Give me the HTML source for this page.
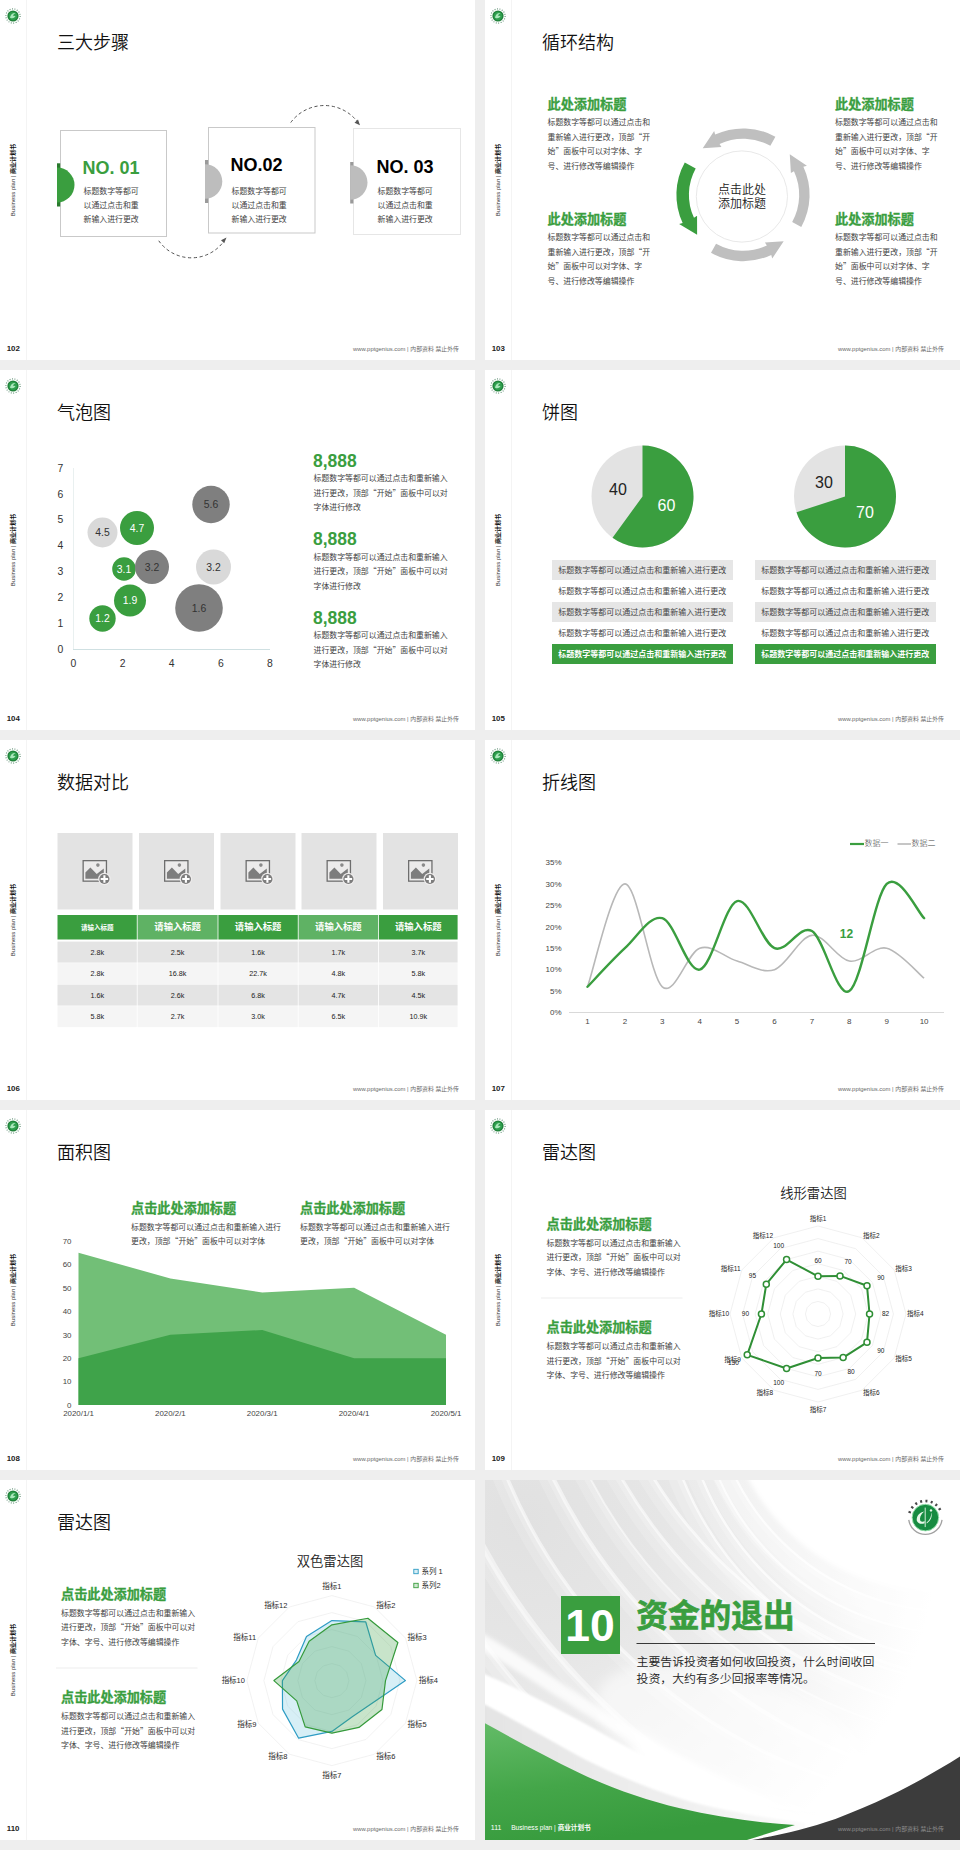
<!DOCTYPE html>
<html lang="zh-CN"><head><meta charset="utf-8"><title>Business plan</title><style>
*{margin:0;padding:0;box-sizing:border-box}
html,body{width:960px;height:1850px;background:#eeeeee;overflow:hidden}
body{position:relative;font-family:"Liberation Sans","Noto Sans CJK SC",sans-serif;color:#333}
.s{position:absolute;width:475px;height:360px;background:#fff;overflow:hidden}
.s svg.bg{position:absolute;left:0;top:0;width:475px;height:360px}
.a{position:absolute;white-space:nowrap}
.t{position:absolute;left:57px;top:29px;font-size:18px;line-height:28px;font-weight:350;color:#111;white-space:nowrap}
.vl{position:absolute;left:26px;top:0;width:1px;height:360px;background:#f4f4f4}
.vt{position:absolute;left:13px;top:180px;width:0;height:0}
.vt span{position:absolute;white-space:nowrap;font-size:6px;line-height:8px;color:#333;transform:translate(-50%,-50%) rotate(-90deg);transform-origin:50% 50%;left:0;top:0;display:block}
.vt b{color:#111}
.pn{position:absolute;left:6.7px;top:343.6px;font-size:7.9px;line-height:10px;font-weight:bold;color:#222}
.ft{position:absolute;right:16px;top:344px;font-size:5.9px;line-height:10px;color:#6a6a6a;white-space:nowrap;font-weight:400}
.g{color:#3a9e3f}
.q{font-family:"Noto Sans CJK SC",sans-serif;line-height:0}
.p{position:absolute;font-size:7.9px;line-height:14.4px;color:#424242;font-weight:400;white-space:nowrap;margin-top:1.1px}
.h{position:absolute;font-size:12px;line-height:16px;font-weight:bold;color:#3a9e3f;white-space:nowrap}
</style></head><body>
<div class="s" style="left:0px;top:0px">
<div class="vl"></div><svg class="a" style="left:4.7px;top:7.8px" width="16" height="16" viewBox="0 0 16 16"><circle cx="8" cy="8" r="7.1" fill="none" stroke="#55886a" stroke-width="1.15" stroke-dasharray="0.9 1.58"/><circle cx="8" cy="8" r="5.6" fill="#1f8039"/><circle cx="8" cy="8" r="4.3" fill="#2f9f4e"/><path d="M4.9 9.4 Q6.4 4.6 10.6 5 Q8.3 6 8 7.9 Q9.6 7.5 10.6 8.3 Q8 11.6 4.9 9.4Z" fill="#a9e6ba"/></svg>
<div class="vt"><span>Business plan | <b>商业计划书</b></span></div>
<div class="pn">102</div>
<div class="ft">www.pptgenius.com | 内部资料 禁止外传</div>
<div class="t">三大步骤</div>
<svg class="bg" viewBox="0 0 475 360">
<rect x="60.5" y="130.5" width="106" height="106" fill="#fff" stroke="#c9c9c9"/>
<rect x="208.5" y="127.5" width="106.5" height="105.5" fill="#fff" stroke="#c9c9c9"/>
<rect x="353.5" y="128.5" width="107" height="106" fill="#fff" stroke="#e6e6e6"/>
<rect x="57" y="163.3" width="3.2" height="43.2" fill="#2a7a2e"/>
<path d="M57 167.5 A17.5 17.5 0 0 1 57 202.5Z" fill="#3a9e3f"/>
<rect x="205" y="160" width="3.2" height="43" fill="#9a9a9a"/>
<path d="M205 164.2 A17.3 17.3 0 0 1 205 198.8Z" fill="#bdbdbd"/>
<rect x="350.2" y="162" width="3.2" height="41.5" fill="#9a9a9a"/>
<path d="M350.2 165.2 A17.3 17.3 0 0 1 350.2 199.8Z" fill="#bdbdbd"/>
<path d="M158.75 240.75 A39.9 39.9 0 0 0 224.3 240.6" fill="none" stroke="#4a4a4a" stroke-width="0.95" stroke-dasharray="3.2 2.6"/>
<path d="M226.5 237.5 L221 240.2 L224.2 243.2Z" fill="#555"/>
<path d="M290.75 122.5 A41.8 41.8 0 0 1 357.8 122.2" fill="none" stroke="#4a4a4a" stroke-width="0.95" stroke-dasharray="3.2 2.6"/>
<path d="M360 125.2 L354.5 122.8 L358 119.6Z" fill="#555"/>
</svg>
<div class="a" style="left:82.5px;top:157px;font-size:18px;line-height:22px;font-weight:bold;color:#3a9e3f">NO. 01</div>
<div class="a" style="left:230.5px;top:154px;font-size:18px;line-height:22px;font-weight:bold;color:#000">NO.02</div>
<div class="a" style="left:376.5px;top:156px;font-size:18px;line-height:22px;font-weight:bold;color:#000">NO. 03</div>
<div class="p" style="left:83.5px;top:183.5px;">标题数字等都可<br>以通过点击和重<br>新输入进行更改</div>
<div class="p" style="left:231.5px;top:183.5px;">标题数字等都可<br>以通过点击和重<br>新输入进行更改</div>
<div class="p" style="left:377.5px;top:183.5px;">标题数字等都可<br>以通过点击和重<br>新输入进行更改</div>
</div>
<div class="s" style="left:485px;top:0px">
<div class="vl"></div><svg class="a" style="left:4.7px;top:7.8px" width="16" height="16" viewBox="0 0 16 16"><circle cx="8" cy="8" r="7.1" fill="none" stroke="#55886a" stroke-width="1.15" stroke-dasharray="0.9 1.58"/><circle cx="8" cy="8" r="5.6" fill="#1f8039"/><circle cx="8" cy="8" r="4.3" fill="#2f9f4e"/><path d="M4.9 9.4 Q6.4 4.6 10.6 5 Q8.3 6 8 7.9 Q9.6 7.5 10.6 8.3 Q8 11.6 4.9 9.4Z" fill="#a9e6ba"/></svg>
<div class="vt"><span>Business plan | <b>商业计划书</b></span></div>
<div class="pn">103</div>
<div class="ft">www.pptgenius.com | 内部资料 禁止外传</div>
<div class="t">循环结构</div>
<svg class="bg" viewBox="0 0 475 360"><path d="M290.39 136.73 A66.4 66.4 0 0 0 230.14 134.62 L229.17 131.10 L217.72 148.23 L236.47 147.12 L234.53 144.05 A56 56 0 0 1 285.35 145.82 Z" fill="#bfbfbf"/><path d="M199.78 162.41 A66.8 66.8 0 0 0 197.66 223.03 L194.14 223.99 L212.12 234.85 L212.06 215.82 L208.99 217.75 A54.3 54.3 0 0 1 210.71 168.47 Z" fill="#3a9e3f"/><path d="M226.01 252.87 A66.4 66.4 0 0 0 286.26 254.98 L287.23 258.50 L298.68 241.37 L279.93 242.48 L281.87 245.55 A56 56 0 0 1 231.05 243.78 Z" fill="#bfbfbf"/><path d="M316.27 226.99 A66.4 66.4 0 0 0 318.38 166.74 L321.90 165.77 L304.77 154.32 L305.88 173.07 L308.95 171.13 A56 56 0 0 1 307.18 221.95 Z" fill="#bfbfbf"/><circle cx="256.9" cy="196.5" r="45.6" fill="#fff" stroke="#e2e2e2" stroke-width="0.8"/></svg>
<div class="a" style="left:216.89999999999998px;top:182.8px;width:80px;text-align:center;font-size:12px;line-height:14.2px;color:#222;font-weight:350">点击此处<br>添加标题</div>
<div class="h" style="left:62.5px;top:95.5px;font-size:13.15px;line-height:17px;-webkit-text-stroke:0.3px #3a9e3f">此处添加标题</div>
<div class="p" style="left:62.5px;top:115.3px;">标题数字等都可以通过点击和<br>重新输入进行更改，顶部<span class="q">“</span>开<br>始<span class="q">”</span>面板中可以对字体、字<br>号、进行修改等编辑操作</div>
<div class="h" style="left:62.5px;top:210.5px;font-size:13.15px;line-height:17px;-webkit-text-stroke:0.3px #3a9e3f">此处添加标题</div>
<div class="p" style="left:62.5px;top:230.3px;">标题数字等都可以通过点击和<br>重新输入进行更改，顶部<span class="q">“</span>开<br>始<span class="q">”</span>面板中可以对字体、字<br>号、进行修改等编辑操作</div>
<div class="h" style="left:350px;top:95.5px;font-size:13.15px;line-height:17px;-webkit-text-stroke:0.3px #3a9e3f">此处添加标题</div>
<div class="p" style="left:350px;top:115.3px;">标题数字等都可以通过点击和<br>重新输入进行更改，顶部<span class="q">“</span>开<br>始<span class="q">”</span>面板中可以对字体、字<br>号、进行修改等编辑操作</div>
<div class="h" style="left:350px;top:210.5px;font-size:13.15px;line-height:17px;-webkit-text-stroke:0.3px #3a9e3f">此处添加标题</div>
<div class="p" style="left:350px;top:230.3px;">标题数字等都可以通过点击和<br>重新输入进行更改，顶部<span class="q">“</span>开<br>始<span class="q">”</span>面板中可以对字体、字<br>号、进行修改等编辑操作</div>
</div>
<div class="s" style="left:0px;top:370px">
<div class="vl"></div><svg class="a" style="left:4.7px;top:7.8px" width="16" height="16" viewBox="0 0 16 16"><circle cx="8" cy="8" r="7.1" fill="none" stroke="#55886a" stroke-width="1.15" stroke-dasharray="0.9 1.58"/><circle cx="8" cy="8" r="5.6" fill="#1f8039"/><circle cx="8" cy="8" r="4.3" fill="#2f9f4e"/><path d="M4.9 9.4 Q6.4 4.6 10.6 5 Q8.3 6 8 7.9 Q9.6 7.5 10.6 8.3 Q8 11.6 4.9 9.4Z" fill="#a9e6ba"/></svg>
<div class="vt"><span>Business plan | <b>商业计划书</b></span></div>
<div class="pn">104</div>
<div class="ft">www.pptgenius.com | 内部资料 禁止外传</div>
<div class="t">气泡图</div>
<svg class="bg" viewBox="0 0 475 360" font-family="Liberation Sans, sans-serif"><path d="M73.5 98 V279.5" fill="none" stroke="#e9f0f0" stroke-width="1"/><path d="M73 279.5 H270" fill="none" stroke="#cfe0e2" stroke-width="1"/><text x="60.5" y="282.7" font-size="10.4" fill="#333" text-anchor="middle">0</text><text x="60.5" y="256.8" font-size="10.4" fill="#333" text-anchor="middle">1</text><text x="60.5" y="231.0" font-size="10.4" fill="#333" text-anchor="middle">2</text><text x="60.5" y="205.1" font-size="10.4" fill="#333" text-anchor="middle">3</text><text x="60.5" y="179.3" font-size="10.4" fill="#333" text-anchor="middle">4</text><text x="60.5" y="153.4" font-size="10.4" fill="#333" text-anchor="middle">5</text><text x="60.5" y="127.5" font-size="10.4" fill="#333" text-anchor="middle">6</text><text x="60.5" y="101.7" font-size="10.4" fill="#333" text-anchor="middle">7</text><text x="73.5" y="296.6" font-size="10.4" fill="#333" text-anchor="middle">0</text><text x="122.6" y="296.6" font-size="10.4" fill="#333" text-anchor="middle">2</text><text x="171.7" y="296.6" font-size="10.4" fill="#333" text-anchor="middle">4</text><text x="220.9" y="296.6" font-size="10.4" fill="#333" text-anchor="middle">6</text><text x="270.0" y="296.6" font-size="10.4" fill="#333" text-anchor="middle">8</text><circle cx="102.5" cy="162.5" r="15" fill="#d9d9d9"/><circle cx="137" cy="158" r="17" fill="#3a9e3f"/><circle cx="211" cy="134.5" r="18.7" fill="#7f7f7f"/><circle cx="124" cy="199" r="11.8" fill="#3a9e3f"/><circle cx="152" cy="197" r="17" fill="#7f7f7f"/><circle cx="213.5" cy="197" r="17.5" fill="#d9d9d9"/><circle cx="130" cy="230.5" r="16" fill="#3a9e3f"/><circle cx="102.5" cy="248.5" r="13.2" fill="#3a9e3f"/><circle cx="199" cy="238" r="23.8" fill="#7f7f7f"/><text x="102.5" y="166.2" font-size="10.4" fill="#333" text-anchor="middle">4.5</text><text x="137" y="161.7" font-size="10.4" fill="#fff" text-anchor="middle">4.7</text><text x="211" y="138.2" font-size="10.4" fill="#333" text-anchor="middle">5.6</text><text x="124" y="202.7" font-size="10.4" fill="#fff" text-anchor="middle">3.1</text><text x="152" y="200.7" font-size="10.4" fill="#333" text-anchor="middle">3.2</text><text x="213.5" y="200.7" font-size="10.4" fill="#333" text-anchor="middle">3.2</text><text x="130" y="234.2" font-size="10.4" fill="#fff" text-anchor="middle">1.9</text><text x="102.5" y="252.2" font-size="10.4" fill="#fff" text-anchor="middle">1.2</text><text x="199" y="241.7" font-size="10.4" fill="#333" text-anchor="middle">1.6</text></svg>
<div class="a" style="left:313px;top:79.5px;font-size:17.5px;line-height:22px;font-weight:bold;color:#3a9e3f">8,888</div>
<div class="p" style="left:313.5px;top:101.3px;">标题数字等都可以通过点击和重新输入<br>进行更改，顶部<span class="q">“</span>开始<span class="q">”</span>面板中可以对<br>字体进行修改</div>
<div class="a" style="left:313px;top:158px;font-size:17.5px;line-height:22px;font-weight:bold;color:#3a9e3f">8,888</div>
<div class="p" style="left:313.5px;top:179.8px;">标题数字等都可以通过点击和重新输入<br>进行更改，顶部<span class="q">“</span>开始<span class="q">”</span>面板中可以对<br>字体进行修改</div>
<div class="a" style="left:313px;top:236.5px;font-size:17.5px;line-height:22px;font-weight:bold;color:#3a9e3f">8,888</div>
<div class="p" style="left:313.5px;top:258.3px;">标题数字等都可以通过点击和重新输入<br>进行更改，顶部<span class="q">“</span>开始<span class="q">”</span>面板中可以对<br>字体进行修改</div>
</div>
<div class="s" style="left:485px;top:370px">
<div class="vl"></div><svg class="a" style="left:4.7px;top:7.8px" width="16" height="16" viewBox="0 0 16 16"><circle cx="8" cy="8" r="7.1" fill="none" stroke="#55886a" stroke-width="1.15" stroke-dasharray="0.9 1.58"/><circle cx="8" cy="8" r="5.6" fill="#1f8039"/><circle cx="8" cy="8" r="4.3" fill="#2f9f4e"/><path d="M4.9 9.4 Q6.4 4.6 10.6 5 Q8.3 6 8 7.9 Q9.6 7.5 10.6 8.3 Q8 11.6 4.9 9.4Z" fill="#a9e6ba"/></svg>
<div class="vt"><span>Business plan | <b>商业计划书</b></span></div>
<div class="pn">105</div>
<div class="ft">www.pptgenius.com | 内部资料 禁止外传</div>
<div class="t">饼图</div>
<svg class="bg" viewBox="0 0 475 360" font-family="Liberation Sans, sans-serif"><circle cx="157.5" cy="126.5" r="51" fill="#e3e3e3"/><path d="M157.5 126.5 L157.5 75.5 A51 51 0 1 1 127.52 167.76 Z" fill="#3a9e3f"/><circle cx="360" cy="126.5" r="51" fill="#e3e3e3"/><path d="M360 126.5 L360 75.5 A51 51 0 1 1 311.50 142.26 Z" fill="#3a9e3f"/><text x="133" y="124.7" font-size="16" fill="#222" text-anchor="middle">40</text><text x="181.5" y="140.7" font-size="16" fill="#fff" text-anchor="middle">60</text><text x="339" y="117.7" font-size="16" fill="#222" text-anchor="middle">30</text><text x="380" y="147.7" font-size="16" fill="#fff" text-anchor="middle">70</text></svg>
<div class="a" style="left:67px;top:189.8px;width:180.5px;height:20.4px;line-height:22px;text-align:center;font-size:8px;background:#e6e6e6;color:#454545;font-weight:400">标题数字等都可以通过点击和重新输入进行更改</div>
<div class="a" style="left:67px;top:210.5px;width:180.5px;height:20.4px;line-height:22px;text-align:center;font-size:8px;color:#454545;font-weight:400">标题数字等都可以通过点击和重新输入进行更改</div>
<div class="a" style="left:67px;top:231.8px;width:180.5px;height:20.4px;line-height:22px;text-align:center;font-size:8px;background:#e6e6e6;color:#454545;font-weight:400">标题数字等都可以通过点击和重新输入进行更改</div>
<div class="a" style="left:67px;top:252.5px;width:180.5px;height:20.4px;line-height:22px;text-align:center;font-size:8px;color:#454545;font-weight:400">标题数字等都可以通过点击和重新输入进行更改</div>
<div class="a" style="left:67px;top:273.5px;width:180.5px;height:20.4px;line-height:22px;text-align:center;font-size:8px;background:#3a9e3f;color:#fff;font-weight:bold">标题数字等都可以通过点击和重新输入进行更改</div>
<div class="a" style="left:270px;top:189.8px;width:180.5px;height:20.4px;line-height:22px;text-align:center;font-size:8px;background:#e6e6e6;color:#454545;font-weight:400">标题数字等都可以通过点击和重新输入进行更改</div>
<div class="a" style="left:270px;top:210.5px;width:180.5px;height:20.4px;line-height:22px;text-align:center;font-size:8px;color:#454545;font-weight:400">标题数字等都可以通过点击和重新输入进行更改</div>
<div class="a" style="left:270px;top:231.8px;width:180.5px;height:20.4px;line-height:22px;text-align:center;font-size:8px;background:#e6e6e6;color:#454545;font-weight:400">标题数字等都可以通过点击和重新输入进行更改</div>
<div class="a" style="left:270px;top:252.5px;width:180.5px;height:20.4px;line-height:22px;text-align:center;font-size:8px;color:#454545;font-weight:400">标题数字等都可以通过点击和重新输入进行更改</div>
<div class="a" style="left:270px;top:273.5px;width:180.5px;height:20.4px;line-height:22px;text-align:center;font-size:8px;background:#3a9e3f;color:#fff;font-weight:bold">标题数字等都可以通过点击和重新输入进行更改</div>
</div>
<div class="s" style="left:0px;top:740px">
<div class="vl"></div><svg class="a" style="left:4.7px;top:7.8px" width="16" height="16" viewBox="0 0 16 16"><circle cx="8" cy="8" r="7.1" fill="none" stroke="#55886a" stroke-width="1.15" stroke-dasharray="0.9 1.58"/><circle cx="8" cy="8" r="5.6" fill="#1f8039"/><circle cx="8" cy="8" r="4.3" fill="#2f9f4e"/><path d="M4.9 9.4 Q6.4 4.6 10.6 5 Q8.3 6 8 7.9 Q9.6 7.5 10.6 8.3 Q8 11.6 4.9 9.4Z" fill="#a9e6ba"/></svg>
<div class="vt"><span>Business plan | <b>商业计划书</b></span></div>
<div class="pn">106</div>
<div class="ft">www.pptgenius.com | 内部资料 禁止外传</div>
<div class="t">数据对比</div>
<svg class="bg" viewBox="0 0 475 360"><defs><g id="pic"><rect x="1.05" y="0.65" width="23.3" height="20.5" fill="#ecebeb" stroke="#6e6e6e" stroke-width="1.3"/>
<path d="M3.3 18.7 V12.6 L8.3 7.6 L14.6 13.9 L21.7 8.6 V18.7Z" fill="#7d7d7d"/><circle cx="15.8" cy="5.1" r="1.8" fill="#8a8a8a"/>
<circle cx="22.3" cy="19" r="6.2" fill="#efeded"/><circle cx="22.3" cy="19" r="5.1" fill="#7d7d7d"/><path d="M22.3 15.3 V22.7 M18.6 19 H26" stroke="#fff" stroke-width="2.1"/></g></defs><rect x="57.5" y="93" width="75" height="76.5" fill="#e3e3e3"/><use href="#pic" x="82.1" y="120"/><rect x="139" y="93" width="75" height="76.5" fill="#e3e3e3"/><use href="#pic" x="163.6" y="120"/><rect x="220.5" y="93" width="75" height="76.5" fill="#e3e3e3"/><use href="#pic" x="245.1" y="120"/><rect x="301.5" y="93" width="75" height="76.5" fill="#e3e3e3"/><use href="#pic" x="326.1" y="120"/><rect x="383" y="93" width="75" height="76.5" fill="#e3e3e3"/><use href="#pic" x="407.6" y="120"/><rect x="57.5" y="175" width="79.3" height="24.5" fill="#3a9e3f"/><rect x="57.5" y="201.6" width="79.3" height="21" fill="#e4e4e4"/><rect x="57.5" y="223.1" width="79.3" height="21" fill="#f5f5f5"/><rect x="57.5" y="244.6" width="79.3" height="21" fill="#e4e4e4"/><rect x="57.5" y="266.1" width="79.3" height="21" fill="#f5f5f5"/><rect x="137.6" y="175" width="80" height="24.5" fill="#5fb264"/><rect x="137.6" y="201.6" width="80" height="21" fill="#e4e4e4"/><rect x="137.6" y="223.1" width="80" height="21" fill="#f5f5f5"/><rect x="137.6" y="244.6" width="80" height="21" fill="#e4e4e4"/><rect x="137.6" y="266.1" width="80" height="21" fill="#f5f5f5"/><rect x="218.4" y="175" width="79.4" height="24.5" fill="#3a9e3f"/><rect x="218.4" y="201.6" width="79.4" height="21" fill="#e4e4e4"/><rect x="218.4" y="223.1" width="79.4" height="21" fill="#f5f5f5"/><rect x="218.4" y="244.6" width="79.4" height="21" fill="#e4e4e4"/><rect x="218.4" y="266.1" width="79.4" height="21" fill="#f5f5f5"/><rect x="298.6" y="175" width="79.5" height="24.5" fill="#5fb264"/><rect x="298.6" y="201.6" width="79.5" height="21" fill="#e4e4e4"/><rect x="298.6" y="223.1" width="79.5" height="21" fill="#f5f5f5"/><rect x="298.6" y="244.6" width="79.5" height="21" fill="#e4e4e4"/><rect x="298.6" y="266.1" width="79.5" height="21" fill="#f5f5f5"/><rect x="378.9" y="175" width="78.7" height="24.5" fill="#3a9e3f"/><rect x="378.9" y="201.6" width="78.7" height="21" fill="#e4e4e4"/><rect x="378.9" y="223.1" width="78.7" height="21" fill="#f5f5f5"/><rect x="378.9" y="244.6" width="78.7" height="21" fill="#e4e4e4"/><rect x="378.9" y="266.1" width="78.7" height="21" fill="#f5f5f5"/></svg>
<div class="a" style="left:57.5px;top:175px;width:79.7px;height:24.5px;line-height:25.5px;text-align:center;color:#fff;font-weight:bold;font-size:6.5px">请输入标题</div>
<div class="a" style="left:57.5px;top:201.6px;width:79.7px;height:21px;line-height:21px;text-align:center;color:#222;font-size:7.2px">2.8k</div>
<div class="a" style="left:57.5px;top:223.1px;width:79.7px;height:21px;line-height:21px;text-align:center;color:#222;font-size:7.2px">2.8k</div>
<div class="a" style="left:57.5px;top:244.6px;width:79.7px;height:21px;line-height:21px;text-align:center;color:#222;font-size:7.2px">1.6k</div>
<div class="a" style="left:57.5px;top:266.1px;width:79.7px;height:21px;line-height:21px;text-align:center;color:#222;font-size:7.2px">5.8k</div>
<div class="a" style="left:137.2px;top:175px;width:80.8px;height:24.5px;line-height:25.5px;text-align:center;color:#fff;font-weight:bold;font-size:9.3px">请输入标题</div>
<div class="a" style="left:137.2px;top:201.6px;width:80.8px;height:21px;line-height:21px;text-align:center;color:#222;font-size:7.2px">2.5k</div>
<div class="a" style="left:137.2px;top:223.1px;width:80.8px;height:21px;line-height:21px;text-align:center;color:#222;font-size:7.2px">16.8k</div>
<div class="a" style="left:137.2px;top:244.6px;width:80.8px;height:21px;line-height:21px;text-align:center;color:#222;font-size:7.2px">2.6k</div>
<div class="a" style="left:137.2px;top:266.1px;width:80.8px;height:21px;line-height:21px;text-align:center;color:#222;font-size:7.2px">2.7k</div>
<div class="a" style="left:218px;top:175px;width:80.2px;height:24.5px;line-height:25.5px;text-align:center;color:#fff;font-weight:bold;font-size:9.3px">请输入标题</div>
<div class="a" style="left:218px;top:201.6px;width:80.2px;height:21px;line-height:21px;text-align:center;color:#222;font-size:7.2px">1.6k</div>
<div class="a" style="left:218px;top:223.1px;width:80.2px;height:21px;line-height:21px;text-align:center;color:#222;font-size:7.2px">22.7k</div>
<div class="a" style="left:218px;top:244.6px;width:80.2px;height:21px;line-height:21px;text-align:center;color:#222;font-size:7.2px">6.8k</div>
<div class="a" style="left:218px;top:266.1px;width:80.2px;height:21px;line-height:21px;text-align:center;color:#222;font-size:7.2px">3.0k</div>
<div class="a" style="left:298.2px;top:175px;width:80.3px;height:24.5px;line-height:25.5px;text-align:center;color:#fff;font-weight:bold;font-size:9.3px">请输入标题</div>
<div class="a" style="left:298.2px;top:201.6px;width:80.3px;height:21px;line-height:21px;text-align:center;color:#222;font-size:7.2px">1.7k</div>
<div class="a" style="left:298.2px;top:223.1px;width:80.3px;height:21px;line-height:21px;text-align:center;color:#222;font-size:7.2px">4.8k</div>
<div class="a" style="left:298.2px;top:244.6px;width:80.3px;height:21px;line-height:21px;text-align:center;color:#222;font-size:7.2px">4.7k</div>
<div class="a" style="left:298.2px;top:266.1px;width:80.3px;height:21px;line-height:21px;text-align:center;color:#222;font-size:7.2px">6.5k</div>
<div class="a" style="left:378.5px;top:175px;width:79.5px;height:24.5px;line-height:25.5px;text-align:center;color:#fff;font-weight:bold;font-size:9.3px">请输入标题</div>
<div class="a" style="left:378.5px;top:201.6px;width:79.5px;height:21px;line-height:21px;text-align:center;color:#222;font-size:7.2px">3.7k</div>
<div class="a" style="left:378.5px;top:223.1px;width:79.5px;height:21px;line-height:21px;text-align:center;color:#222;font-size:7.2px">5.8k</div>
<div class="a" style="left:378.5px;top:244.6px;width:79.5px;height:21px;line-height:21px;text-align:center;color:#222;font-size:7.2px">4.5k</div>
<div class="a" style="left:378.5px;top:266.1px;width:79.5px;height:21px;line-height:21px;text-align:center;color:#222;font-size:7.2px">10.9k</div>
</div>
<div class="s" style="left:485px;top:740px">
<div class="vl"></div><svg class="a" style="left:4.7px;top:7.8px" width="16" height="16" viewBox="0 0 16 16"><circle cx="8" cy="8" r="7.1" fill="none" stroke="#55886a" stroke-width="1.15" stroke-dasharray="0.9 1.58"/><circle cx="8" cy="8" r="5.6" fill="#1f8039"/><circle cx="8" cy="8" r="4.3" fill="#2f9f4e"/><path d="M4.9 9.4 Q6.4 4.6 10.6 5 Q8.3 6 8 7.9 Q9.6 7.5 10.6 8.3 Q8 11.6 4.9 9.4Z" fill="#a9e6ba"/></svg>
<div class="vt"><span>Business plan | <b>商业计划书</b></span></div>
<div class="pn">107</div>
<div class="ft">www.pptgenius.com | 内部资料 禁止外传</div>
<div class="t">折线图</div>
<svg class="bg" viewBox="0 0 475 360" font-family="Liberation Sans, sans-serif"><path d="M84 272.5 H459" stroke="#cfcfcf" stroke-width="0.8"/><text x="76.5" y="275.3" font-size="8" fill="#454545" text-anchor="end">0%</text><text x="76.5" y="253.9" font-size="8" fill="#454545" text-anchor="end">5%</text><text x="76.5" y="232.4" font-size="8" fill="#454545" text-anchor="end">10%</text><text x="76.5" y="211.0" font-size="8" fill="#454545" text-anchor="end">15%</text><text x="76.5" y="189.6" font-size="8" fill="#454545" text-anchor="end">20%</text><text x="76.5" y="168.2" font-size="8" fill="#454545" text-anchor="end">25%</text><text x="76.5" y="146.7" font-size="8" fill="#454545" text-anchor="end">30%</text><text x="76.5" y="125.3" font-size="8" fill="#454545" text-anchor="end">35%</text><text x="102.5" y="284.2" font-size="8" fill="#454545" text-anchor="middle">1</text><text x="139.9" y="284.2" font-size="8" fill="#454545" text-anchor="middle">2</text><text x="177.3" y="284.2" font-size="8" fill="#454545" text-anchor="middle">3</text><text x="214.7" y="284.2" font-size="8" fill="#454545" text-anchor="middle">4</text><text x="252.1" y="284.2" font-size="8" fill="#454545" text-anchor="middle">5</text><text x="289.5" y="284.2" font-size="8" fill="#454545" text-anchor="middle">6</text><text x="326.9" y="284.2" font-size="8" fill="#454545" text-anchor="middle">7</text><text x="364.3" y="284.2" font-size="8" fill="#454545" text-anchor="middle">8</text><text x="401.7" y="284.2" font-size="8" fill="#454545" text-anchor="middle">9</text><text x="439.1" y="284.2" font-size="8" fill="#454545" text-anchor="middle">10</text><path d="M102.50 246.78 C108.73 229.64 127.43 143.92 139.90 143.92 C152.37 143.92 164.83 236.07 177.30 246.78 C189.77 257.50 202.23 212.50 214.70 208.21 C227.17 203.92 239.63 217.50 252.10 221.07 C264.57 224.64 277.03 233.93 289.50 229.64 C301.97 225.35 314.43 196.78 326.90 195.35 C339.37 193.92 351.83 218.93 364.30 221.07 C376.77 223.21 389.23 205.35 401.70 208.21 C414.17 211.07 432.87 233.21 439.10 238.21" fill="none" stroke="#b8b8b8" stroke-width="1.6"/><path d="M102.50 246.78 C108.73 240.35 127.43 219.64 139.90 208.21 C152.37 196.78 164.83 174.64 177.30 178.21 C189.77 181.78 202.23 232.50 214.70 229.64 C227.17 226.78 239.63 164.64 252.10 161.06 C264.57 157.49 277.03 203.21 289.50 208.21 C301.97 213.21 314.43 183.92 326.90 191.07 C339.37 198.21 351.83 258.93 364.30 251.07 C376.77 243.21 389.23 156.06 401.70 143.92 C414.17 131.78 432.87 172.49 439.10 178.21" fill="none" stroke="#3a9e3f" stroke-width="2.4" stroke-linecap="round"/><path d="M365 104 H379" stroke="#3a9e3f" stroke-width="2.2"/><path d="M412.5 104 H426" stroke="#b8b8b8" stroke-width="1.6"/><text x="361.5" y="197.8" font-size="12" font-weight="bold" fill="#3a9e3f" text-anchor="middle">12</text></svg>
<div class="a" style="left:379.5px;top:98px;font-size:8px;line-height:12px;color:#444;font-weight:300">数据一</div>
<div class="a" style="left:426.5px;top:98px;font-size:8px;line-height:12px;color:#444;font-weight:300">数据二</div>
</div>
<div class="s" style="left:0px;top:1110px">
<div class="vl"></div><svg class="a" style="left:4.7px;top:7.8px" width="16" height="16" viewBox="0 0 16 16"><circle cx="8" cy="8" r="7.1" fill="none" stroke="#55886a" stroke-width="1.15" stroke-dasharray="0.9 1.58"/><circle cx="8" cy="8" r="5.6" fill="#1f8039"/><circle cx="8" cy="8" r="4.3" fill="#2f9f4e"/><path d="M4.9 9.4 Q6.4 4.6 10.6 5 Q8.3 6 8 7.9 Q9.6 7.5 10.6 8.3 Q8 11.6 4.9 9.4Z" fill="#a9e6ba"/></svg>
<div class="vt"><span>Business plan | <b>商业计划书</b></span></div>
<div class="pn">108</div>
<div class="ft">www.pptgenius.com | 内部资料 禁止外传</div>
<div class="t">面积图</div>
<svg class="bg" viewBox="0 0 475 360" font-family="Liberation Sans, sans-serif"><path d="M78.50 295.00 L78.50 142.71 L170.38 168.48 L262.25 182.54 L354.12 177.85 L446.00 224.71 L446.00 295.00 Z" fill="#72bf77"/><path d="M78.50 295.00 L78.50 248.14 L170.38 224.71 L262.25 220.02 L354.12 248.14 L446.00 248.14 L446.00 295.00 Z" fill="#3fa34a"/><text x="71.5" y="297.8" font-size="7.9" fill="#454545" text-anchor="end">0</text><text x="71.5" y="274.4" font-size="7.9" fill="#454545" text-anchor="end">10</text><text x="71.5" y="250.9" font-size="7.9" fill="#454545" text-anchor="end">20</text><text x="71.5" y="227.5" font-size="7.9" fill="#454545" text-anchor="end">30</text><text x="71.5" y="204.1" font-size="7.9" fill="#454545" text-anchor="end">40</text><text x="71.5" y="180.7" font-size="7.9" fill="#454545" text-anchor="end">50</text><text x="71.5" y="157.2" font-size="7.9" fill="#454545" text-anchor="end">60</text><text x="71.5" y="133.8" font-size="7.9" fill="#454545" text-anchor="end">70</text><text x="78.5" y="306.4" font-size="7.9" fill="#454545" text-anchor="middle">2020/1/1</text><text x="170.4" y="306.4" font-size="7.9" fill="#454545" text-anchor="middle">2020/2/1</text><text x="262.2" y="306.4" font-size="7.9" fill="#454545" text-anchor="middle">2020/3/1</text><text x="354.1" y="306.4" font-size="7.9" fill="#454545" text-anchor="middle">2020/4/1</text><text x="446.0" y="306.4" font-size="7.9" fill="#454545" text-anchor="middle">2020/5/1</text></svg>
<div class="h" style="left:131px;top:89.5px;font-size:13.15px;line-height:17px;-webkit-text-stroke:0.3px #3a9e3f">点击此处添加标题</div>
<div class="p" style="left:131px;top:109.8px;">标题数字等都可以通过点击和重新输入进行<br>更改，顶部<span class="q">“</span>开始<span class="q">”</span>面板中可以对字体</div>
<div class="h" style="left:300px;top:89.5px;font-size:13.15px;line-height:17px;-webkit-text-stroke:0.3px #3a9e3f">点击此处添加标题</div>
<div class="p" style="left:300px;top:109.8px;">标题数字等都可以通过点击和重新输入进行<br>更改，顶部<span class="q">“</span>开始<span class="q">”</span>面板中可以对字体</div>
</div>
<div class="s" style="left:485px;top:1110px">
<div class="vl"></div><svg class="a" style="left:4.7px;top:7.8px" width="16" height="16" viewBox="0 0 16 16"><circle cx="8" cy="8" r="7.1" fill="none" stroke="#55886a" stroke-width="1.15" stroke-dasharray="0.9 1.58"/><circle cx="8" cy="8" r="5.6" fill="#1f8039"/><circle cx="8" cy="8" r="4.3" fill="#2f9f4e"/><path d="M4.9 9.4 Q6.4 4.6 10.6 5 Q8.3 6 8 7.9 Q9.6 7.5 10.6 8.3 Q8 11.6 4.9 9.4Z" fill="#a9e6ba"/></svg>
<div class="vt"><span>Business plan | <b>商业计划书</b></span></div>
<div class="pn">109</div>
<div class="ft">www.pptgenius.com | 内部资料 禁止外传</div>
<div class="t">雷达图</div>
<svg class="bg" viewBox="0 0 475 360" font-family="Liberation Sans, Noto Sans CJK SC, sans-serif"><polygon points="333.00,191.43 339.29,193.11 343.89,197.71 345.57,204.00 343.89,210.29 339.29,214.89 333.00,216.57 326.71,214.89 322.11,210.29 320.43,204.00 322.11,197.71 326.71,193.11" fill="none" stroke="#e9e9e9" stroke-width="0.7"/><polygon points="333.00,178.86 345.57,182.23 354.77,191.43 358.14,204.00 354.77,216.57 345.57,225.77 333.00,229.14 320.43,225.77 311.23,216.57 307.86,204.00 311.23,191.43 320.43,182.23" fill="none" stroke="#e9e9e9" stroke-width="0.7"/><polygon points="333.00,166.29 351.86,171.34 365.66,185.14 370.71,204.00 365.66,222.86 351.86,236.66 333.00,241.71 314.14,236.66 300.34,222.86 295.29,204.00 300.34,185.14 314.14,171.34" fill="none" stroke="#e9e9e9" stroke-width="0.7"/><polygon points="333.00,153.71 358.14,160.45 376.55,178.86 383.29,204.00 376.55,229.14 358.14,247.55 333.00,254.29 307.86,247.55 289.45,229.14 282.71,204.00 289.45,178.86 307.86,160.45" fill="none" stroke="#e9e9e9" stroke-width="0.7"/><polygon points="333.00,141.14 364.43,149.56 387.44,172.57 395.86,204.00 387.44,235.43 364.43,258.44 333.00,266.86 301.57,258.44 278.56,235.43 270.14,204.00 278.56,172.57 301.57,149.56" fill="none" stroke="#e9e9e9" stroke-width="0.7"/><polygon points="333.00,128.57 370.71,138.68 398.32,166.29 408.43,204.00 398.32,241.71 370.71,269.32 333.00,279.43 295.29,269.32 267.68,241.71 257.57,204.00 267.68,166.29 295.29,138.68" fill="none" stroke="#e9e9e9" stroke-width="0.7"/><polygon points="333.00,116.00 377.00,127.79 409.21,160.00 421.00,204.00 409.21,248.00 377.00,280.21 333.00,292.00 289.00,280.21 256.79,248.00 245.00,204.00 256.79,160.00 289.00,127.79" fill="none" stroke="#e9e9e9" stroke-width="0.7"/><polygon points="333.00,166.29 355.00,165.89 381.99,175.71 384.54,204.00 381.99,232.29 358.14,247.55 333.00,248.00 301.57,258.44 262.23,244.86 276.43,204.00 281.29,174.14 301.57,149.56" fill="none" stroke="#2f8f35" stroke-width="2" stroke-linejoin="round"/><circle cx="333.00" cy="166.29" r="3" fill="#fff" stroke="#2f8f35" stroke-width="1.5"/><circle cx="355.00" cy="165.89" r="3" fill="#fff" stroke="#2f8f35" stroke-width="1.5"/><circle cx="381.99" cy="175.71" r="3" fill="#fff" stroke="#2f8f35" stroke-width="1.5"/><circle cx="384.54" cy="204.00" r="3" fill="#fff" stroke="#2f8f35" stroke-width="1.5"/><circle cx="381.99" cy="232.29" r="3" fill="#fff" stroke="#2f8f35" stroke-width="1.5"/><circle cx="358.14" cy="247.55" r="3" fill="#fff" stroke="#2f8f35" stroke-width="1.5"/><circle cx="333.00" cy="248.00" r="3" fill="#fff" stroke="#2f8f35" stroke-width="1.5"/><circle cx="301.57" cy="258.44" r="3" fill="#fff" stroke="#2f8f35" stroke-width="1.5"/><circle cx="262.23" cy="244.86" r="3" fill="#fff" stroke="#2f8f35" stroke-width="1.5"/><circle cx="276.43" cy="204.00" r="3" fill="#fff" stroke="#2f8f35" stroke-width="1.5"/><circle cx="281.29" cy="174.14" r="3" fill="#fff" stroke="#2f8f35" stroke-width="1.5"/><circle cx="301.57" cy="149.56" r="3" fill="#fff" stroke="#2f8f35" stroke-width="1.5"/><text x="333.0" y="152.6" font-size="6.5" fill="#222" text-anchor="middle">60</text><text x="333.0" y="110.6" font-size="6.5" fill="#222" text-anchor="middle">指标1</text><text x="363.0" y="154.3" font-size="6.5" fill="#222" text-anchor="middle">70</text><text x="386.3" y="128.1" font-size="6.5" fill="#222" text-anchor="middle">指标2</text><text x="395.8" y="170.0" font-size="6.5" fill="#222" text-anchor="middle">90</text><text x="418.5" y="161.2" font-size="6.5" fill="#222" text-anchor="middle">指标3</text><text x="400.5" y="206.3" font-size="6.5" fill="#222" text-anchor="middle">82</text><text x="430.3" y="206.3" font-size="6.5" fill="#222" text-anchor="middle">指标4</text><text x="395.8" y="242.6" font-size="6.5" fill="#222" text-anchor="middle">90</text><text x="418.5" y="251.4" font-size="6.5" fill="#222" text-anchor="middle">指标5</text><text x="366.1" y="263.7" font-size="6.5" fill="#222" text-anchor="middle">80</text><text x="386.3" y="284.5" font-size="6.5" fill="#222" text-anchor="middle">指标6</text><text x="333.0" y="266.3" font-size="6.5" fill="#222" text-anchor="middle">70</text><text x="333.0" y="302.0" font-size="6.5" fill="#222" text-anchor="middle">指标7</text><text x="293.6" y="274.6" font-size="6.5" fill="#222" text-anchor="middle">100</text><text x="279.7" y="284.5" font-size="6.5" fill="#222" text-anchor="middle">指标8</text><text x="248.4" y="255.2" font-size="6.5" fill="#222" text-anchor="middle">130</text><text x="247.5" y="251.5" font-size="6.5" fill="#222" text-anchor="middle">指标9</text><text x="260.4" y="206.3" font-size="6.5" fill="#222" text-anchor="middle">90</text><text x="233.9" y="206.3" font-size="6.5" fill="#222" text-anchor="middle">指标10</text><text x="267.4" y="168.4" font-size="6.5" fill="#222" text-anchor="middle">95</text><text x="245.7" y="161.2" font-size="6.5" fill="#222" text-anchor="middle">指标11</text><text x="293.6" y="138.0" font-size="6.5" fill="#222" text-anchor="middle">100</text><text x="277.9" y="128.1" font-size="6.5" fill="#222" text-anchor="middle">指标12</text><path d="M56 188 H197.5" stroke="#e8e8e8" stroke-width="0.8"/></svg>
<div class="a" style="left:278.5px;top:74px;width:100px;text-align:center;font-size:13.3px;line-height:19px;color:#222;font-weight:350">线形雷达图</div>
<div class="h" style="left:61.5px;top:105.5px;font-size:13.15px;line-height:17px;-webkit-text-stroke:0.3px #3a9e3f">点击此处添加标题</div>
<div class="p" style="left:61.5px;top:125.8px;">标题数字等都可以通过点击和重新输入<br>进行更改，顶部<span class="q">“</span>开始<span class="q">”</span>面板中可以对<br>字体、字号、进行修改等编辑操作</div>
<div class="h" style="left:61.5px;top:209.0px;font-size:13.15px;line-height:17px;-webkit-text-stroke:0.3px #3a9e3f">点击此处添加标题</div>
<div class="p" style="left:61.5px;top:229.3px;">标题数字等都可以通过点击和重新输入<br>进行更改，顶部<span class="q">“</span>开始<span class="q">”</span>面板中可以对<br>字体、字号、进行修改等编辑操作</div>
</div>
<div class="s" style="left:0px;top:1480px">
<div class="vl"></div><svg class="a" style="left:4.7px;top:7.8px" width="16" height="16" viewBox="0 0 16 16"><circle cx="8" cy="8" r="7.1" fill="none" stroke="#55886a" stroke-width="1.15" stroke-dasharray="0.9 1.58"/><circle cx="8" cy="8" r="5.6" fill="#1f8039"/><circle cx="8" cy="8" r="4.3" fill="#2f9f4e"/><path d="M4.9 9.4 Q6.4 4.6 10.6 5 Q8.3 6 8 7.9 Q9.6 7.5 10.6 8.3 Q8 11.6 4.9 9.4Z" fill="#a9e6ba"/></svg>
<div class="vt"><span>Business plan | <b>商业计划书</b></span></div>
<div class="pn">110</div>
<div class="ft">www.pptgenius.com | 内部资料 禁止外传</div>
<div class="t">雷达图</div>
<svg class="bg" viewBox="0 0 475 360" font-family="Liberation Sans, Noto Sans CJK SC, sans-serif"><polygon points="331.90,183.60 340.40,185.88 346.62,192.10 348.90,200.60 346.62,209.10 340.40,215.32 331.90,217.60 323.40,215.32 317.18,209.10 314.90,200.60 317.18,192.10 323.40,185.88" fill="none" stroke="#ececec" stroke-width="0.7"/><polygon points="331.90,166.60 348.90,171.16 361.34,183.60 365.90,200.60 361.34,217.60 348.90,230.04 331.90,234.60 314.90,230.04 302.46,217.60 297.90,200.60 302.46,183.60 314.90,171.16" fill="none" stroke="#ececec" stroke-width="0.7"/><polygon points="331.90,149.60 357.40,156.43 376.07,175.10 382.90,200.60 376.07,226.10 357.40,244.77 331.90,251.60 306.40,244.77 287.73,226.10 280.90,200.60 287.73,175.10 306.40,156.43" fill="none" stroke="#ececec" stroke-width="0.7"/><polygon points="331.90,132.60 365.90,141.71 390.79,166.60 399.90,200.60 390.79,234.60 365.90,259.49 331.90,268.60 297.90,259.49 273.01,234.60 263.90,200.60 273.01,166.60 297.90,141.71" fill="none" stroke="#ececec" stroke-width="0.7"/><polygon points="331.90,115.60 374.40,126.99 405.51,158.10 416.90,200.60 405.51,243.10 374.40,274.21 331.90,285.60 289.40,274.21 258.29,243.10 246.90,200.60 258.29,158.10 289.40,126.99" fill="none" stroke="#ececec" stroke-width="0.7"/><polygon points="331.90,140.60 365.75,141.97 375.63,175.35 405.50,200.60 371.74,223.60 352.65,236.54 331.90,251.40 298.65,258.19 282.54,229.10 282.40,200.60 296.39,180.10 306.50,156.61" fill="#4bb4d8" fill-opacity="0.22" stroke="#2e9cc4" stroke-width="1.2" stroke-linejoin="round"/><polygon points="331.90,144.80 367.90,138.25 397.89,162.50 385.50,200.60 381.96,229.50 358.95,247.45 331.90,253.20 305.20,246.85 296.74,220.90 273.90,200.60 298.99,181.60 309.15,161.20" fill="#3a9e3f" fill-opacity="0.28" stroke="#359a3b" stroke-width="1.2" stroke-linejoin="round"/><text x="331.9" y="108.7" font-size="7.5" fill="#2a2a2a" font-weight="400" text-anchor="middle">指标1</text><text x="385.9" y="127.6" font-size="7.5" fill="#2a2a2a" font-weight="400" text-anchor="middle">指标2</text><text x="417.0" y="159.5" font-size="7.5" fill="#2a2a2a" font-weight="400" text-anchor="middle">指标3</text><text x="428.4" y="203.2" font-size="7.5" fill="#2a2a2a" font-weight="400" text-anchor="middle">指标4</text><text x="417.0" y="246.8" font-size="7.5" fill="#2a2a2a" font-weight="400" text-anchor="middle">指标5</text><text x="385.9" y="278.8" font-size="7.5" fill="#2a2a2a" font-weight="400" text-anchor="middle">指标6</text><text x="331.9" y="297.7" font-size="7.5" fill="#2a2a2a" font-weight="400" text-anchor="middle">指标7</text><text x="277.9" y="278.8" font-size="7.5" fill="#2a2a2a" font-weight="400" text-anchor="middle">指标8</text><text x="246.8" y="246.9" font-size="7.5" fill="#2a2a2a" font-weight="400" text-anchor="middle">指标9</text><text x="233.3" y="203.2" font-size="7.5" fill="#2a2a2a" font-weight="400" text-anchor="middle">指标10</text><text x="244.7" y="159.5" font-size="7.5" fill="#2a2a2a" font-weight="400" text-anchor="middle">指标11</text><text x="275.8" y="127.6" font-size="7.5" fill="#2a2a2a" font-weight="400" text-anchor="middle">指标12</text><rect x="413.8" y="89.3" width="4.4" height="4.4" fill="#d8eef6" stroke="#2e9cc4" stroke-width="0.9"/><rect x="413.8" y="103.3" width="4.4" height="4.4" fill="#cfe8d0" stroke="#3a9e3f" stroke-width="0.9"/><path d="M56 188 H197.5" stroke="#e8e8e8" stroke-width="0.8"/></svg>
<div class="a" style="left:421.5px;top:86px;font-size:7.5px;line-height:11px;color:#2a2a2a;font-weight:400">系列 1</div>
<div class="a" style="left:421.5px;top:100px;font-size:7.5px;line-height:11px;color:#2a2a2a;font-weight:400">系列2</div>
<div class="a" style="left:280px;top:72px;width:100px;text-align:center;font-size:13.3px;line-height:19px;color:#222;font-weight:350">双色雷达图</div>
<div class="h" style="left:61px;top:105.5px;font-size:13.15px;line-height:17px;-webkit-text-stroke:0.3px #3a9e3f">点击此处添加标题</div>
<div class="p" style="left:61px;top:125.8px;">标题数字等都可以通过点击和重新输入<br>进行更改，顶部<span class="q">“</span>开始<span class="q">”</span>面板中可以对<br>字体、字号、进行修改等编辑操作</div>
<div class="h" style="left:61px;top:209.0px;font-size:13.15px;line-height:17px;-webkit-text-stroke:0.3px #3a9e3f">点击此处添加标题</div>
<div class="p" style="left:61px;top:229.3px;">标题数字等都可以通过点击和重新输入<br>进行更改，顶部<span class="q">“</span>开始<span class="q">”</span>面板中可以对<br>字体、字号、进行修改等编辑操作</div>
</div>
<div class="s" style="left:485px;top:1480px">
<svg class="bg" viewBox="0 0 475 360"><defs>
<linearGradient id="bgG" x1="0" y1="0" x2="1" y2="0.35"><stop offset="0" stop-color="#e5e5e5"/><stop offset="0.45" stop-color="#ececec"/><stop offset="0.8" stop-color="#f7f7f7"/><stop offset="1" stop-color="#fdfdfd"/></linearGradient>
<radialGradient id="bgR" gradientUnits="userSpaceOnUse" cx="40" cy="40" r="460"><stop offset="0" stop-color="#e1e1e1"/><stop offset="0.3" stop-color="#e6e6e6"/><stop offset="0.5" stop-color="#ededed"/><stop offset="0.7" stop-color="#f6f6f6"/><stop offset="0.9" stop-color="#ffffff"/></radialGradient>
<linearGradient id="grn" x1="0" y1="0" x2="0.35" y2="1"><stop offset="0" stop-color="#63bb67"/><stop offset="0.55" stop-color="#44a649"/><stop offset="1" stop-color="#379b3d"/></linearGradient>
<radialGradient id="wh" cx="0.5" cy="0.5" r="0.5"><stop offset="0" stop-color="#fff" stop-opacity="1"/><stop offset="0.6" stop-color="#fff" stop-opacity="0.9"/><stop offset="1" stop-color="#fff" stop-opacity="0"/></radialGradient>
<filter id="bl1" x="-20%" y="-20%" width="140%" height="140%"><feGaussianBlur stdDeviation="0.8"/></filter>
<linearGradient id="gb" x1="0" y1="0" x2="1" y2="0"><stop offset="0" stop-color="#e4e4e4"/><stop offset="0.6" stop-color="#efefef"/><stop offset="1" stop-color="#fbfbfb"/></linearGradient>
<filter id="bl2" x="-20%" y="-20%" width="140%" height="140%"><feGaussianBlur stdDeviation="2"/></filter>
<filter id="bl5" x="-20%" y="-20%" width="140%" height="140%"><feGaussianBlur stdDeviation="6"/></filter>
</defs><rect width="475" height="360" fill="url(#bgR)"/><g fill="none" stroke="#fff"><circle cx="467" cy="-110.5" r="249" stroke-width="14" stroke-opacity="0.16"/><circle cx="467" cy="-110.5" r="245" stroke-width="6" stroke-opacity="0.2"/><circle cx="467" cy="-110.5" r="242" stroke-width="2.2" stroke-opacity="0.75"/><circle cx="472" cy="-106.5" r="267" stroke-width="14" stroke-opacity="0.16"/><circle cx="472" cy="-106.5" r="263" stroke-width="6" stroke-opacity="0.2"/><circle cx="472" cy="-106.5" r="260" stroke-width="2.2" stroke-opacity="0.7"/><circle cx="488" cy="-112" r="299.5" stroke-width="14" stroke-opacity="0.16"/><circle cx="488" cy="-112" r="295.5" stroke-width="6" stroke-opacity="0.2"/><circle cx="488" cy="-112" r="292.5" stroke-width="2.5" stroke-opacity="0.7"/><circle cx="502.5" cy="-124" r="335.4" stroke-width="14" stroke-opacity="0.16"/><circle cx="502.5" cy="-124" r="331.4" stroke-width="6" stroke-opacity="0.2"/><circle cx="502.5" cy="-124" r="328.4" stroke-width="2.5" stroke-opacity="0.65"/><circle cx="541.5" cy="-232" r="445" stroke-width="14" stroke-opacity="0.16"/><circle cx="541.5" cy="-232" r="441" stroke-width="6" stroke-opacity="0.2"/><circle cx="541.5" cy="-232" r="438" stroke-width="3" stroke-opacity="0.6"/><circle cx="561" cy="-246" r="496.5" stroke-width="14" stroke-opacity="0.16"/><circle cx="561" cy="-246" r="492.5" stroke-width="6" stroke-opacity="0.2"/><circle cx="561" cy="-246" r="489.5" stroke-width="3" stroke-opacity="0.55"/><circle cx="550.4" cy="-235" r="509.5" stroke-width="14" stroke-opacity="0.16"/><circle cx="550.4" cy="-235" r="505.5" stroke-width="6" stroke-opacity="0.2"/><circle cx="550.4" cy="-235" r="502.5" stroke-width="2" stroke-opacity="0.5"/><circle cx="582" cy="-253.5" r="579" stroke-width="14" stroke-opacity="0.16"/><circle cx="582" cy="-253.5" r="575" stroke-width="6" stroke-opacity="0.2"/><circle cx="582" cy="-253.5" r="572" stroke-width="4" stroke-opacity="0.55"/><circle cx="516" cy="-208" r="542" stroke-width="14" stroke-opacity="0.16"/><circle cx="516" cy="-208" r="538" stroke-width="6" stroke-opacity="0.2"/><circle cx="516" cy="-208" r="535" stroke-width="3.5" stroke-opacity="0.55"/><circle cx="560" cy="-240" r="647" stroke-width="14" stroke-opacity="0.16"/><circle cx="560" cy="-240" r="643" stroke-width="6" stroke-opacity="0.2"/><circle cx="560" cy="-240" r="640" stroke-width="6" stroke-opacity="0.5"/><circle cx="560" cy="-240" r="697" stroke-width="14" stroke-opacity="0.16"/><circle cx="560" cy="-240" r="693" stroke-width="6" stroke-opacity="0.2"/><circle cx="560" cy="-240" r="690" stroke-width="4" stroke-opacity="0.45"/></g><circle cx="452" cy="-102" r="214" fill="#fff" filter="url(#bl2)"/><circle cx="467" cy="-110" r="262" fill="#fff" fill-opacity="0.35"/><path d="M150 250 C 230 300 300 330 340 338 C 395 325 440 285 485 238 L485 370 L150 370Z" fill="#fff" filter="url(#bl5)"/><path d="M-5 152 C 40 178 80 205 120 232 C 170 264 220 292 280 318 L300 330 C 230 305 170 275 120 246 C 80 222 40 196 -5 168Z" fill="#fff" fill-opacity="0.8" filter="url(#bl2)"/><ellipse cx="255" cy="262" rx="150" ry="62" fill="#fff" fill-opacity="0.55" filter="url(#bl5)" transform="rotate(20 255 262)"/><path d="M-5 192 C 40 212 80 232 120 255 C 170 283 215 305 260 322 L330 345 L-5 345Z" fill="#fff" filter="url(#bl1)"/><path d="M-5 222 C 30 240 65 260 100 279.5 C 135 297 170 311 205 321.5 C 240 331 280 338 320 343 L320 350 L-5 350Z" fill="url(#gb)" filter="url(#bl1)"/><path d="M475 276.6 C 452 291 430 303.5 404.6 315.8 C 386 324.8 369 332 350.4 338.9 C 322 348.5 297 354.5 267 360 L475 360Z" fill="#3c3c3c"/><path d="M0 243.3 C 30 260 62 277 95 293.3 C 128 309 161 320 195 328.3 C 232 337 270 342.5 310 345 L262 360 L0 360Z" fill="url(#grn)"/><rect x="76" y="116" width="59" height="58" fill="#3a9e3f"/><path d="M151.5 163.5 H390" stroke="#222" stroke-width="0.9"/><g transform="translate(440.4 37.6)"><circle r="18.6" fill="#fff" fill-opacity="0.8"/>
<path d="M-15.96 -4.58 A16.6 16.6 0 0 1 15.96 -4.58" fill="none" stroke="#484848" stroke-width="2.6" stroke-dasharray="2 3.35"/>
<path d="M16.64 2.34 A16.8 16.8 0 0 1 -16.64 2.34" fill="none" stroke="#a2a2a2" stroke-width="1.3"/>
<circle r="13.3" fill="#178c41" stroke="#9be3b0" stroke-width="0.9"/>
<path d="M-0.2 -10 V9.5" stroke="#e9f8ea" stroke-width="0.9"/>
<path d="M-8.6 3.2 C-9.2 -2.5 -5.5 -5.2 -1.2 -6.2 C-4.8 -3.2 -6.2 0.2 -5 3.4 C-3.6 4.6 -1.8 4.2 -0.8 3.4 L-0.8 5.6 C-4 7 -7.4 6.2 -8.6 3.2Z" fill="#e9f8ea"/>
<path d="M1.2 4.8 C4.8 2 6.2 -1.6 5.6 -5.2 C7.2 -2.2 6.2 2.2 1.4 5.8Z" fill="#e9f8ea"/><circle cx="5.6" cy="-7.2" r="1.2" fill="#e9f8ea"/>
</g></svg>
<div class="a" style="left:75.6px;top:121.2px;width:59px;text-align:center;font-size:44.5px;line-height:50px;font-weight:bold;color:#fff">10</div>
<div class="a" style="left:151.2px;top:113.2px;font-size:31.7px;line-height:46px;font-weight:700;color:#3a9e3f;-webkit-text-stroke:0.7px #3a9e3f">资金的退出</div>
<div class="a" style="left:151.5px;top:173.5px;font-size:11.9px;line-height:17.6px;color:#222;font-weight:350">主要告诉投资者如何收回投资，什么时间收回<br>投资，大约有多少回报率等情况。</div>
<div class="a" style="left:5.8px;top:343px;font-size:7px;line-height:10px;color:#fff">111</div>
<div class="a" style="left:26.2px;top:343.2px;font-size:6.6px;line-height:10px;color:#fff">Business plan | <b>商业计划书</b></div>
<div class="ft" style="color:#8c8c8c">www.pptgenius.com | 内部资料 禁止外传</div>
</div>
</body></html>
